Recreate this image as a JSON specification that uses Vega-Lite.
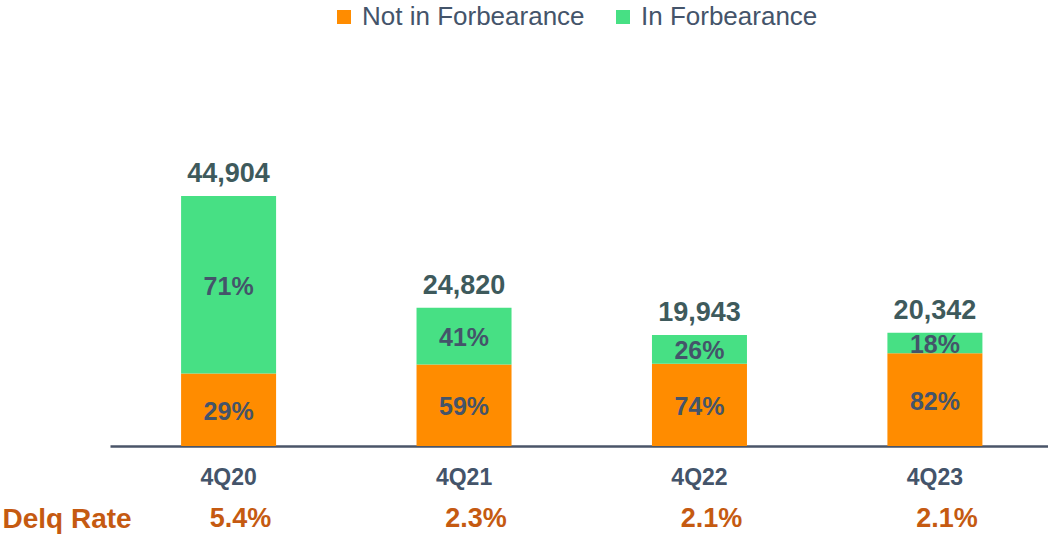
{
  "$schema": "https://vega.github.io/schema/vega-lite/v6.json",
  "autosize": {"type": "none"},
  "width": 938,
  "height": 446,
  "padding": {"left": 110, "top": 0, "right": 0, "bottom": 92},
  "background": "white",
  "config": {
    "view": {"stroke": null},
    "font": "Liberation Sans"
  },
  "datasets": {
    "segments": [
      {"quarter": "4Q20", "segment": "Not in Forbearance", "count": 13022, "share": 0.29},
      {"quarter": "4Q20", "segment": "In Forbearance", "count": 31882, "share": 0.71},
      {"quarter": "4Q21", "segment": "Not in Forbearance", "count": 14644, "share": 0.59},
      {"quarter": "4Q21", "segment": "In Forbearance", "count": 10176, "share": 0.41},
      {"quarter": "4Q22", "segment": "Not in Forbearance", "count": 14758, "share": 0.74},
      {"quarter": "4Q22", "segment": "In Forbearance", "count": 5185, "share": 0.26},
      {"quarter": "4Q23", "segment": "Not in Forbearance", "count": 16680, "share": 0.82},
      {"quarter": "4Q23", "segment": "In Forbearance", "count": 3662, "share": 0.18}
    ],
    "quarters": [
      {"quarter": "4Q20", "delq": 0.054},
      {"quarter": "4Q21", "delq": 0.023},
      {"quarter": "4Q22", "delq": 0.021},
      {"quarter": "4Q23", "delq": 0.021}
    ]
  },
  "data": {"name": "segments"},
  "encoding": {
    "x": {
      "field": "quarter",
      "type": "nominal",
      "sort": ["4Q20", "4Q21", "4Q22", "4Q23"],
      "scale": {"paddingInner": 0.6, "paddingOuter": 0.292, "align": 0.52},
      "axis": {
        "title": null,
        "labelAngle": 0,
        "ticks": false,
        "tickSize": 0,
        "labelPadding": 20,
        "labelFontSize": 23,
        "labelFontWeight": "bold",
        "labelColor": "#44546A",
        "domainColor": "#4A5568",
        "domainWidth": 2.5,
        "grid": false
      }
    }
  },
  "layer": [
    {
      "transform": [
        {"stack": "count", "groupby": ["quarter"], "sort": [{"field": "segment", "order": "descending"}], "as": ["y0", "y1"]}
      ],
      "mark": {"type": "bar", "size": 95},
      "encoding": {
        "y": {
          "field": "y0",
          "type": "quantitative",
          "scale": {"domain": [0, 80110], "nice": false, "zero": true},
          "axis": {
            "title": "Delq Rate",
            "domain": false,
            "ticks": false,
            "labels": false,
            "grid": false,
            "titleAngle": 0,
            "titleAlign": "left",
            "titleBaseline": "alphabetic",
            "titleX": -108,
            "titleY": 527,
            "titleFontSize": 28,
            "titleFontWeight": "bold",
            "titleColor": "#C55A11"
          }
        },
        "y2": {"field": "y1"},
        "color": {
          "field": "segment",
          "type": "nominal",
          "scale": {"domain": ["Not in Forbearance", "In Forbearance"], "range": ["#FF8C00", "#47E084"]},
          "legend": {
            "title": null,
            "orient": "none",
            "direction": "horizontal",
            "legendX": 221,
            "legendY": 4,
            "padding": 0,
            "symbolType": "square",
            "symbolSize": 196,
            "symbolStrokeWidth": 0,
            "symbolOpacity": 1,
            "labelFontSize": 26,
            "labelLimit": 0,
            "labelColor": "#44546A",
            "labelOffset": 5,
            "columnPadding": 25
          }
        }
      }
    },
    {
      "transform": [
        {"stack": "count", "groupby": ["quarter"], "sort": [{"field": "segment", "order": "descending"}], "as": ["y0", "y1"]},
        {"calculate": "(datum.y0 + datum.y1) / 2", "as": "ymid"}
      ],
      "mark": {"type": "text", "fontSize": 25, "fontWeight": "bold", "color": "#44546A", "baseline": "middle", "dy": 2},
      "encoding": {
        "y": {"field": "ymid", "type": "quantitative"},
        "text": {"field": "share", "type": "quantitative", "format": ".0%"}
      }
    },
    {
      "transform": [
        {"aggregate": [{"op": "sum", "field": "count", "as": "total"}], "groupby": ["quarter"]}
      ],
      "mark": {"type": "text", "fontSize": 27, "fontWeight": "bold", "color": "#3E5A5C", "baseline": "alphabetic", "dy": -14},
      "encoding": {
        "y": {"field": "total", "type": "quantitative"},
        "text": {"field": "total", "type": "quantitative", "format": ","}
      }
    },
    {
      "data": {"name": "quarters"},
      "mark": {"type": "text", "fontSize": 27, "fontWeight": "bold", "color": "#C55A11", "baseline": "alphabetic", "dy": 81, "dx": 12},
      "encoding": {
        "y": {"datum": 0, "type": "quantitative"},
        "text": {"field": "delq", "type": "quantitative", "format": ".1%"}
      }
    }
  ]
}
